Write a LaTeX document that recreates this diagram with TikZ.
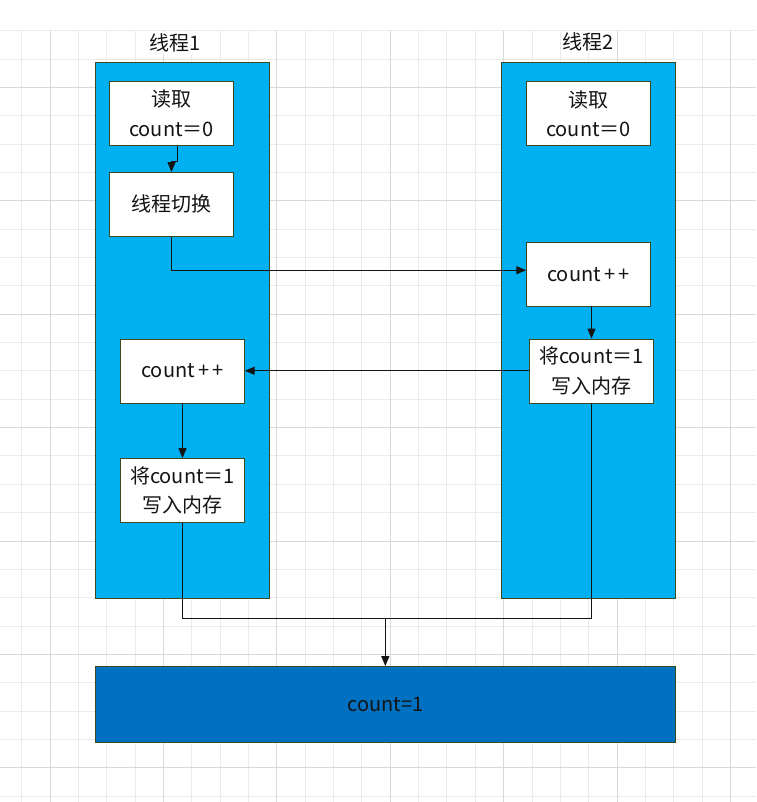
\documentclass[tikz,border=0pt]{standalone}
\usepackage{fontspec}
\setmainfont{Noto Sans CJK SC}
\usetikzlibrary{arrows.meta}
\definecolor{laneBlue}{HTML}{00B0F0}
\definecolor{resultBlue}{HTML}{0070C0}
\definecolor{edgeOlive}{HTML}{3B4A1E}
\definecolor{gridMinor}{HTML}{EBEBEB}
\definecolor{gridMajor}{HTML}{D8D8D8}
\definecolor{inkDark}{HTML}{141414}

\begin{document}
\begin{tikzpicture}[x=0.75pt, y=-0.75pt,
  font=\fontsize{15}{22}\selectfont,
  lane/.style={draw=edgeOlive, fill=laneBlue, minimum width=130.2pt, minimum height=402pt, inner sep=0pt},
  box/.style={draw=edgeOlive, fill=white, text=inkDark, minimum width=93pt, minimum height=48pt,
              align=center, inner sep=1pt},
  title/.style={fill=white, text=inkDark, inner sep=1pt},
  result/.style={draw=edgeOlive, fill=resultBlue, text=inkDark, minimum width=435.4pt, minimum height=57pt},
  a/.style={-{Triangle[length=2.6mm, width=2.1mm]}, draw=inkDark, line width=0.75pt},
  l/.style={draw=inkDark, line width=0.75pt}
]
\useasboundingbox (0,0) rectangle (756,802);
\fill[white] (0,0) rectangle (756,802);
\foreach \i in {0,...,25}
  \draw[gridMinor, line width=0.75pt] ({21.7+28.35*\i},30.7) -- ({21.7+28.35*\i},802);
\foreach \j in {0,...,27}
  \draw[gridMinor, line width=0.75pt] (0,{30.7+28.35*\j}) -- (756,{30.7+28.35*\j});
\foreach \i in {1,5,...,25}
  \draw[gridMajor, line width=0.75pt] ({21.7+28.35*\i},30.7) -- ({21.7+28.35*\i},802);
\foreach \j in {2,6,...,26}
  \draw[gridMajor, line width=0.75pt] (0,{30.7+28.35*\j}) -- (756,{30.7+28.35*\j});

\node[lane] (lane1) at (182.5,330.3) {};
\node[lane] (lane2) at (588.5,330.3) {};
\node[title] (t1) at (175.5,43) {线程1};
\node[title] (t2) at (588,42) {线程2};

\node[box] (a1) at (171.5,113.3) {读取\\count＝0};
\node[box] (a2) at (171.5,204.3) {线程切换};
\node[box] (a3) at (182.5,370.8) {count\,+\,+};
\node[box] (a4) at (182.5,490.3) {将count＝1\\写入内存};

\node[box] (b1) at (588.5,113.5) {读取\\count＝0};
\node[box] (b2) at (588.5,274.2) {count\,+\,+};
\node[box] (b3) at (591.5,370.8) {将count＝1\\写入内存};

\node[result] (res) at (385.3,704.3) {count=1};
\coordinate (join) at (385.3,618.3);

\draw[a] ([xshift=4.3pt]a1.south) -- ++(0,16) -| (a2.north);
\draw[a] (a2.south) |- ([yshift=3pt]b2.west);
\draw[a] (b2.south -| b3.north) -- (b3.north);
\draw[a] (b3.west) -- (a3.east);
\draw[a] (a3.south) -- (a4.north);
\draw[l] (a4.south) |- (join);
\draw[l] (b3.south) |- (join);
\draw[a] (join) -- (res.north);
\end{tikzpicture}
\end{document}
